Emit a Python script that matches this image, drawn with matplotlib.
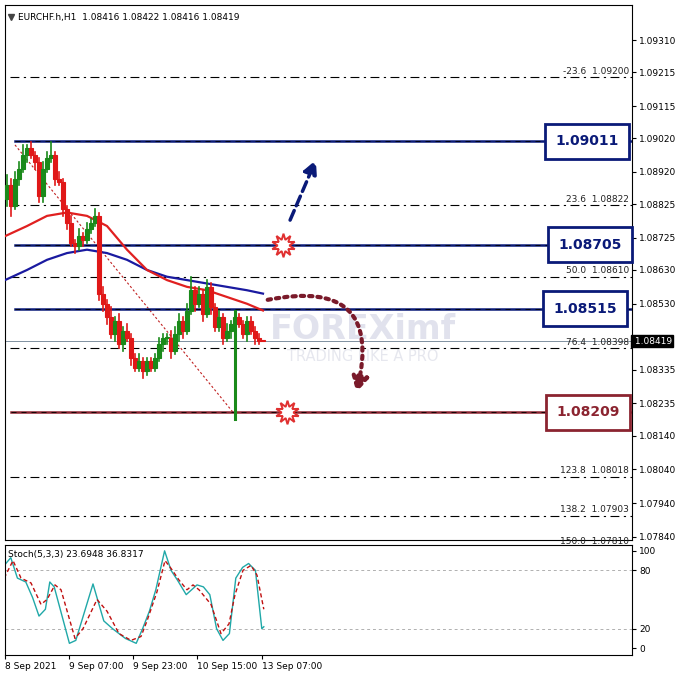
import matplotlib
matplotlib.use("Agg")
import matplotlib.pyplot as plt
import numpy as np
from matplotlib.patches import Rectangle

closes = [1.0888,1.0882,1.0890,1.0893,1.0897,1.0899,1.0897,1.0895,1.0885,1.0893,
          1.0896,1.0897,1.0890,1.0889,1.0881,1.0877,1.0871,1.0870,1.0873,1.0872,
          1.0875,1.0877,1.0879,1.0856,1.0853,1.0849,1.0844,1.0848,1.0841,1.0845,
          1.0843,1.0837,1.0834,1.0836,1.0833,1.0836,1.0834,1.0837,1.0841,1.0843,
          1.0843,1.0839,1.0844,1.0848,1.0845,1.0851,1.0857,1.0853,1.0856,1.0850,
          1.0858,1.0852,1.0846,1.0849,1.0843,1.0845,1.0847,1.0849,1.0847,1.0844,
          1.0848,1.0845,1.0843,1.0842,1.08419]
first_open = 1.0884
wick_up = [3,2,2,2,3,1,2,1,1,2,2,4,1,2,1,1,2,1,2,1,2,1,2,1,2,1,3,1,2,1,2,1,1,2,1,1,1,1,2,1,1,2,2,2,1,2,4,1,2,1,2,1,1,2,1,2,1,2,1,1,1,1,1,1,0]
wick_dn = [2,3,1,2,1,2,1,2,2,2,1,1,2,1,2,2,1,2,1,2,1,1,1,2,2,2,1,2,1,2,1,2,1,1,2,1,1,1,1,2,2,2,1,2,2,1,1,2,1,2,1,2,1,1,2,1,2,28,1,1,2,1,2,1,0]

red_ma_x = [-0.5,5,10,15,20,25,30,35,40,45,50,55,60,64]
red_ma = [1.0873,1.0876,1.0879,1.0880,1.0879,1.0876,1.0869,1.0863,1.0860,1.0858,1.0857,1.0855,1.0853,1.0851]
blue_ma_x = [-0.5,5,10,15,20,25,30,35,40,45,50,55,60,64]
blue_ma = [1.0860,1.0863,1.0866,1.0868,1.0869,1.0868,1.0866,1.0863,1.0861,1.0860,1.0859,1.0858,1.0857,1.0856]

stoch_x = [-0.7,0.95,2.6,4.7,6.4,8,9.6,10.7,11.8,15.6,17.2,21.5,24.2,26.4,29.6,32.3,33.9,35.6,37.2,39.4,41,42.6,44.8,47.5,49.1,50.7,52.4,54,55.6,57.2,58.9,60.4,62.1,63.7,64.2]
stoch_main = [85,93,72,68,52,33,40,68,63,5,8,66,28,20,10,5,20,38,60,100,80,70,55,65,63,55,20,8,15,72,83,87,80,20,22]
sig_x = [-0.7,1.5,3.5,6,8.5,10,12,13.5,17,19,22.5,25,28,31,33.5,35,37.5,39.5,41,43,45,46.5,48,51,53.5,55.5,57,59,61,62.5,64.2]
stoch_sig = [72,90,72,67,45,50,65,60,10,20,50,38,15,8,12,28,58,90,82,70,60,65,60,45,15,25,55,80,85,75,40]

fib_levels = [1.09200,1.08822,1.08610,1.08398,1.08018,1.07903,1.07810]
fib_names = ["-23.6","23.6","50.0","76.4","123.8","138.2","150.0"]
sr_levels = [1.09011,1.08705,1.08515,1.08209]
sr_colors = ["#0a1a78","#0a1a78","#0a1a78","#8b2430"]
yticks = [1.09310,1.09215,1.09115,1.09020,1.08920,1.08825,1.08725,1.08630,1.08530,1.08335,1.08235,1.08140,1.08040,1.07940,1.07840]
xlabels = ["8 Sep 2021","9 Sep 07:00","9 Sep 23:00","10 Sep 15:00","13 Sep 07:00"]
xlabel_pos = [-0.5,15.5,31.5,47.5,63.75]
last_price = 1.08419

W = 678
fig = plt.figure(figsize=(6.78,6.78), dpi=100)
ax = fig.add_axes([5/W, 1-540/W, 627/W, 535/W])
ax2 = fig.add_axes([5/W, 1-655/W, 627/W, 110/W])
ax.set_xlim(-0.5, 156.25)
ax.set_ylim(1.07831, 1.09414)
ax2.set_xlim(-0.5, 156.25)
ax2.set_ylim(-7, 106)

for lv, nm in zip(fib_levels, fib_names):
    ax.plot([0.8, 156.25], [lv, lv], color="black", lw=0.8, ls=(0, (8, 4, 2, 4)))
    ax.text(155.5, lv + 0.00004, f"{nm}  {lv:.5f}", ha="right", va="bottom", fontsize=6.5, color="#222")
ax.plot([2, 56.5], [1.0900, 1.08209], color="#c02020", lw=0.8, ls=(0, (2, 2)))
for lv, c in zip(sr_levels, sr_colors):
    x0 = 2 if c != "#8b2430" else 1
    ax.plot([x0, 156.25], [lv, lv], color=c, lw=1.8)
    ax.plot([x0, 156.25], [lv, lv], color="black", lw=0.6, ls=(0, (6, 6)))
box_x = [145, 145.8, 144.5, 145.2]
for lv, c, bx in zip(sr_levels, sr_colors, box_x):
    ax.text(bx, lv, f"{lv:.5f}", ha="center", va="center", fontsize=10, fontweight="bold", color=c,
            bbox=dict(boxstyle="square,pad=0.75", fc="white", ec=c, lw=2), zorder=6)
ax.axhline(last_price, color="#8090a0", lw=0.7)

ax.text(89, 1.08455, "FOREXimf", fontsize=24, fontweight="bold", color="#cdd0e2", alpha=0.6, ha="center", va="center", zorder=1)
ax.text(89, 1.08375, "TRADING LIKE A PRO", fontsize=10.5, color="#dcdee8", alpha=0.7, ha="center", va="center", zorder=1)

ax.plot(blue_ma_x, blue_ma, color="#1a1aa0", lw=1.6, zorder=3)
ax.plot(red_ma_x, red_ma, color="#e02020", lw=1.6, zorder=3)

opens = [first_open] + closes[:-1]
for i, (o, c) in enumerate(zip(opens, closes)):
    hi = max(o, c) + wick_up[i] * 0.0001
    lo = min(o, c) - wick_dn[i] * 0.0001
    col = "#1a8a1a" if c >= o else "#e01818"
    ax.plot([i, i], [lo, hi], color=col, lw=1.2 if i != 57 else 2.2, zorder=4)
    ax.add_patch(Rectangle((i - 0.38, min(o, c)), 0.76, max(abs(c - o), 0.00003), fc=col, ec=col, lw=0.8, zorder=4))

ax.annotate("", xy=(77.5, 1.08963), xytext=(70.5, 1.08770),
            arrowprops=dict(arrowstyle="-|>,head_width=0.4,head_length=0.8", color="#0a1a78", lw=2.5, ls=(0, (3, 1.5))))
ax.annotate("", xy=(87.2, 1.08260), xytext=(64.5, 1.08540),
            arrowprops=dict(arrowstyle="-|>,head_width=0.5,head_length=0.9", color="#7a1a2a", lw=3, ls=(0, (0.8, 1.2)),
                            connectionstyle="arc3,rad=-0.8"))
for sx, sy in [(69, 1.08705), (70, 1.08209)]:
    ax.plot(sx, sy, marker=(10, 1, 0), ms=17, mfc="white", mec="#e03030", mew=1.4, zorder=7)

ax.yaxis.tick_right()
ax.set_yticks(yticks)
ax.set_yticklabels([f"{v:.5f}" for v in yticks], fontsize=6.5)
ax.tick_params(axis="y", length=3, pad=2)
ax.set_xticks([])
ax.text(156.25, last_price, f" {last_price:.5f}", ha="left", va="center", fontsize=6.5,
        color="white", bbox=dict(boxstyle="square,pad=0.15", fc="black", ec="black"), clip_on=False, zorder=8)
ax.text(0.02, 0.985, "EURCHF.h,H1  1.08416 1.08422 1.08416 1.08419", transform=ax.transAxes, fontsize=6.5, va="top", ha="left")
ax.plot([0.01], [0.978], transform=ax.transAxes, marker="v", ms=4, color="#444", clip_on=False)

ax2.axhline(80, color="#b0b0b0", lw=0.7, ls=(0, (3, 3)))
ax2.axhline(20, color="#b0b0b0", lw=0.7, ls=(0, (3, 3)))
ax2.plot(stoch_x, stoch_main, color="#20a8a8", lw=1.0)
ax2.plot(sig_x, stoch_sig, color="#c01010", lw=1.0, ls=(0, (3, 2)))
ax2.yaxis.tick_right()
ax2.set_yticks([100, 80, 20, 0])
ax2.set_yticklabels(["100", "80", "20", "0"], fontsize=6.5)
ax2.tick_params(axis="y", length=3, pad=2)
ax2.set_xticks(xlabel_pos)
ax2.set_xticklabels(xlabels, fontsize=6.5)
for t in ax2.get_xticklabels():
    t.set_ha("left")
ax2.tick_params(axis="x", length=3, pad=2)
ax2.text(0.005, 0.95, "Stoch(5,3,3) 23.6948 36.8317", transform=ax2.transAxes, fontsize=6.5, va="top")

fig.savefig("out.png", dpi=100, facecolor="white")
